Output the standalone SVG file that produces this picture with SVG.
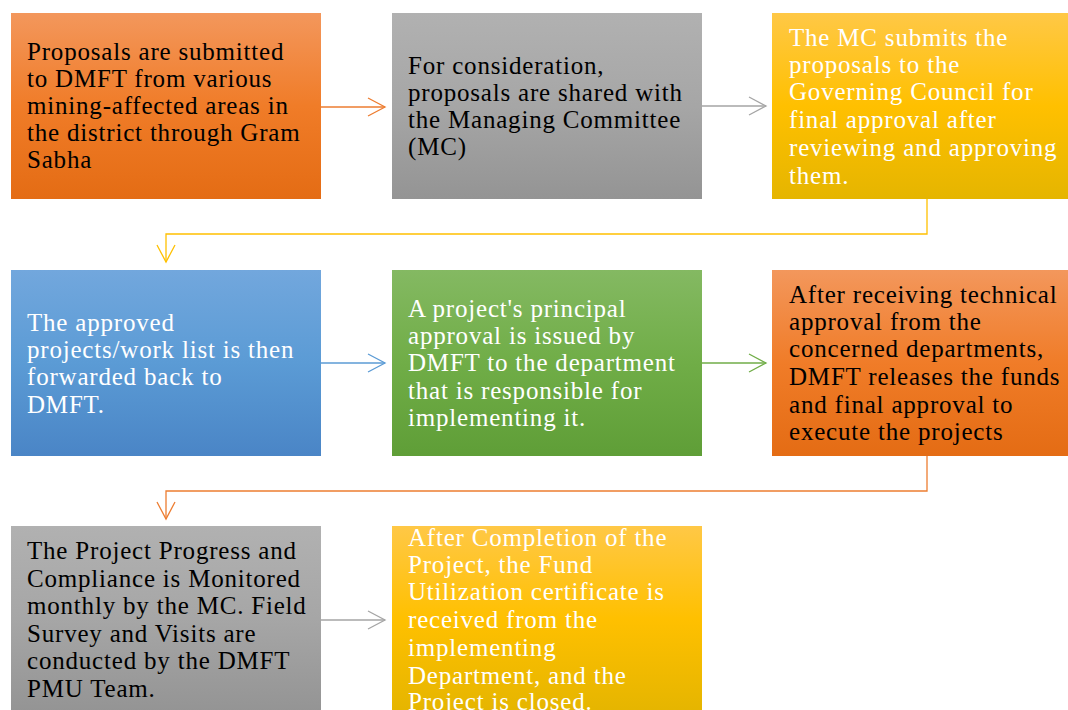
<svg xmlns="http://www.w3.org/2000/svg" width="1068" height="710" viewBox="0 0 1068 710">
<style>
text{font-family:"Liberation Serif","Times New Roman",serif;font-size:25px;letter-spacing:0.8px}
.k{fill:#000}.w{fill:#fff}
.c{fill:none;stroke-width:1.3}
</style>
<defs>
<linearGradient id="gO" x1="0" y1="0" x2="0" y2="1"><stop offset="0" stop-color="#F3975C"/><stop offset="0.5" stop-color="#F07C28"/><stop offset="1" stop-color="#E46C14"/></linearGradient>
<linearGradient id="gG" x1="0" y1="0" x2="0" y2="1"><stop offset="0" stop-color="#B1B1B1"/><stop offset="0.5" stop-color="#A6A6A6"/><stop offset="1" stop-color="#949494"/></linearGradient>
<linearGradient id="gY" x1="0" y1="0" x2="0" y2="1"><stop offset="0" stop-color="#FFC846"/><stop offset="0.5" stop-color="#FFC000"/><stop offset="1" stop-color="#E5B500"/></linearGradient>
<linearGradient id="gB" x1="0" y1="0" x2="0" y2="1"><stop offset="0" stop-color="#72A7DD"/><stop offset="0.5" stop-color="#5B9BD5"/><stop offset="1" stop-color="#4A85C6"/></linearGradient>
<linearGradient id="gN" x1="0" y1="0" x2="0" y2="1"><stop offset="0" stop-color="#84B962"/><stop offset="0.5" stop-color="#70AD47"/><stop offset="1" stop-color="#5F9E37"/></linearGradient>
<marker id="mO" viewBox="0 0 20 20" refX="18" refY="10" markerWidth="20" markerHeight="20" markerUnits="userSpaceOnUse" orient="auto"><path d="M1,1 L18,10 L1,19" fill="none" stroke="#ED7D31" stroke-width="1.3"/></marker>
<marker id="mG" viewBox="0 0 20 20" refX="18" refY="10" markerWidth="20" markerHeight="20" markerUnits="userSpaceOnUse" orient="auto"><path d="M1,1 L18,10 L1,19" fill="none" stroke="#A5A5A5" stroke-width="1.3"/></marker>
<marker id="mY" viewBox="0 0 20 20" refX="18" refY="10" markerWidth="20" markerHeight="20" markerUnits="userSpaceOnUse" orient="auto"><path d="M1,1 L18,10 L1,19" fill="none" stroke="#FFC000" stroke-width="1.3"/></marker>
<marker id="mB" viewBox="0 0 20 20" refX="18" refY="10" markerWidth="20" markerHeight="20" markerUnits="userSpaceOnUse" orient="auto"><path d="M1,1 L18,10 L1,19" fill="none" stroke="#5B9BD5" stroke-width="1.3"/></marker>
<marker id="mN" viewBox="0 0 20 20" refX="18" refY="10" markerWidth="20" markerHeight="20" markerUnits="userSpaceOnUse" orient="auto"><path d="M1,1 L18,10 L1,19" fill="none" stroke="#70AD47" stroke-width="1.3"/></marker>
</defs>
<rect width="1068" height="710" fill="#fff"/>
<g id="connectors">
<line class="c" x1="321" y1="107" x2="385" y2="107" stroke="#ED7D31" marker-end="url(#mO)"/>
<line class="c" x1="702" y1="106" x2="766" y2="106" stroke="#A5A5A5" marker-end="url(#mG)"/>
<polyline class="c" points="927,199 927,234 166,234 166,262" stroke="#FFC000" marker-end="url(#mY)"/>
<line class="c" x1="321" y1="363" x2="385" y2="363" stroke="#5B9BD5" marker-end="url(#mB)"/>
<line class="c" x1="702" y1="363" x2="766" y2="363" stroke="#70AD47" marker-end="url(#mN)"/>
<polyline class="c" points="927,456 927,491 166,491 166,519" stroke="#ED7D31" marker-end="url(#mO)"/>
<line class="c" x1="321" y1="620" x2="385" y2="620" stroke="#A5A5A5" marker-end="url(#mG)"/>
</g>
<g id="n1"><rect x="11" y="13" width="310" height="186" fill="url(#gO)"/>
<text class="k"><tspan x="27" y="60">Proposals are submitted</tspan><tspan x="27" y="87">to DMFT from various</tspan><tspan x="27" y="114">mining-affected areas in</tspan><tspan x="27" y="141">the district through Gram</tspan><tspan x="27" y="168">Sabha</tspan></text></g>
<g id="n2"><rect x="392" y="13" width="310" height="186" fill="url(#gG)"/>
<text class="k"><tspan x="408" y="74">For consideration,</tspan><tspan x="408" y="101">proposals are shared with</tspan><tspan x="408" y="128">the Managing Committee</tspan><tspan x="408" y="155">(MC)</tspan></text></g>
<g id="n3"><rect x="772" y="13" width="310" height="186" fill="url(#gY)"/>
<text class="w"><tspan x="789" y="46">The MC submits the</tspan><tspan x="789" y="73">proposals to the</tspan><tspan x="789" y="100">Governing Council for</tspan><tspan x="789" y="128">final approval after</tspan><tspan x="789" y="156">reviewing and approving</tspan><tspan x="789" y="184">them.</tspan></text></g>
<g id="n4"><rect x="11" y="270" width="310" height="186" fill="url(#gB)"/>
<text class="w"><tspan x="27" y="331">The approved</tspan><tspan x="27" y="358">projects/work list is then</tspan><tspan x="27" y="385">forwarded back to</tspan><tspan x="27" y="413">DMFT.</tspan></text></g>
<g id="n5"><rect x="392" y="270" width="310" height="186" fill="url(#gN)"/>
<text class="w"><tspan x="408" y="317">A project's principal</tspan><tspan x="408" y="344">approval is issued by</tspan><tspan x="408" y="371">DMFT to the department</tspan><tspan x="408" y="399">that is responsible for</tspan><tspan x="408" y="426">implementing it.</tspan></text></g>
<g id="n6"><rect x="772" y="270" width="310" height="186" fill="url(#gO)"/>
<text class="k"><tspan x="789" y="303">After receiving technical</tspan><tspan x="789" y="330">approval from the</tspan><tspan x="789" y="357">concerned departments,</tspan><tspan x="789" y="385">DMFT releases the funds</tspan><tspan x="789" y="413">and final approval to</tspan><tspan x="789" y="440">execute the projects</tspan></text></g>
<g id="n7"><rect x="11" y="526" width="310" height="186" fill="url(#gG)"/>
<text class="k"><tspan x="27" y="559">The Project Progress and</tspan><tspan x="27" y="587">Compliance is Monitored</tspan><tspan x="27" y="614">monthly by the MC. Field</tspan><tspan x="27" y="642">Survey and Visits are</tspan><tspan x="27" y="669">conducted by the DMFT</tspan><tspan x="27" y="697">PMU Team.</tspan></text></g>
<g id="n8"><rect x="392" y="526" width="310" height="186" fill="url(#gY)"/>
<text class="w"><tspan x="408" y="546">After Completion of the</tspan><tspan x="408" y="573">Project, the Fund</tspan><tspan x="408" y="600">Utilization certificate is</tspan><tspan x="408" y="628">received from the</tspan><tspan x="408" y="656">implementing</tspan><tspan x="408" y="684">Department, and the</tspan><tspan x="408" y="710">Project is closed.</tspan></text></g>
</svg>
